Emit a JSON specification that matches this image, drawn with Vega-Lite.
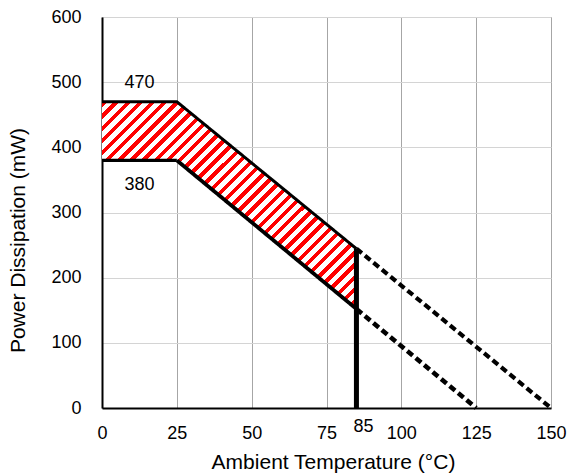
{
  "$schema": "https://vega.github.io/schema/vega-lite/v6.json",
  "autosize": "none",
  "width": 449,
  "height": 391,
  "padding": {"left": 102, "top": 17, "right": 20, "bottom": 65},
  "background": "white",
  "config": {
    "font": "Liberation Sans",
    "view": {"stroke": "#999999", "strokeWidth": 1},
    "axis": {"labelFont": "Liberation Sans", "titleFont": "Liberation Sans", "labelFontSize": 18, "titleFontSize": 21, "labelColor": "#000000", "titleColor": "#000000", "titleFontWeight": "normal", "ticks": false}
  },
  "datasets": {
    "band": [
      {"t": 0, "lo": 380, "hi": 470},
      {"t": 25, "lo": 380, "hi": 470},
      {"t": 85, "lo": 152, "hi": 244.4}
    ],
    "lines": [
      {"seg": "upper", "t": 0, "p": 470},
      {"seg": "upper", "t": 25, "p": 470},
      {"seg": "upper", "t": 85, "p": 244.4},
      {"seg": "lowerFlat", "t": 0, "p": 380},
      {"seg": "lowerFlat", "t": 25, "p": 380},
      {"seg": "lowerSlope", "t": 25, "p": 380},
      {"seg": "lowerSlope", "t": 85, "p": 152},
      {"seg": "upperDash", "t": 85, "p": 244.4},
      {"seg": "upperDash", "t": 150, "p": 0},
      {"seg": "lowerDash", "t": 85, "p": 152},
      {"seg": "lowerDash", "t": 125, "p": 0},
      {"seg": "limit", "t": 85, "p": 0},
      {"seg": "limit", "t": 85, "p": 244.4}
    ],
    "above": [{"t": 12.5, "p": 470, "label": "470"}],
    "below": [{"t": 12.5, "p": 380, "label": "380"}],
    "xnote": [{"t": 85, "p": 0, "label": "85"}]
  },
  "layer": [
    {
      "data": {"name": "band"},
      "mark": {
        "type": "area",
        "color": {
          "gradient": "linear", "x1": 0, "y1": 0, "x2": 1.091, "y2": 0.889,
          "stops": [
            {"offset": 0, "color": "#ff0000"}, {"offset": 0.0118, "color": "#ff0000"}, {"offset": 0.0118, "color": "#ffffff"}, {"offset": 0.0263, "color": "#ffffff"},
            {"offset": 0.0263, "color": "#ff0000"}, {"offset": 0.0382, "color": "#ff0000"}, {"offset": 0.0382, "color": "#ffffff"}, {"offset": 0.0526, "color": "#ffffff"},
            {"offset": 0.0526, "color": "#ff0000"}, {"offset": 0.0645, "color": "#ff0000"}, {"offset": 0.0645, "color": "#ffffff"}, {"offset": 0.0789, "color": "#ffffff"},
            {"offset": 0.0789, "color": "#ff0000"}, {"offset": 0.0908, "color": "#ff0000"}, {"offset": 0.0908, "color": "#ffffff"}, {"offset": 0.1053, "color": "#ffffff"},
            {"offset": 0.1053, "color": "#ff0000"}, {"offset": 0.1171, "color": "#ff0000"}, {"offset": 0.1171, "color": "#ffffff"}, {"offset": 0.1316, "color": "#ffffff"},
            {"offset": 0.1316, "color": "#ff0000"}, {"offset": 0.1434, "color": "#ff0000"}, {"offset": 0.1434, "color": "#ffffff"}, {"offset": 0.1579, "color": "#ffffff"},
            {"offset": 0.1579, "color": "#ff0000"}, {"offset": 0.1697, "color": "#ff0000"}, {"offset": 0.1697, "color": "#ffffff"}, {"offset": 0.1842, "color": "#ffffff"},
            {"offset": 0.1842, "color": "#ff0000"}, {"offset": 0.1961, "color": "#ff0000"}, {"offset": 0.1961, "color": "#ffffff"}, {"offset": 0.2105, "color": "#ffffff"},
            {"offset": 0.2105, "color": "#ff0000"}, {"offset": 0.2224, "color": "#ff0000"}, {"offset": 0.2224, "color": "#ffffff"}, {"offset": 0.2368, "color": "#ffffff"},
            {"offset": 0.2368, "color": "#ff0000"}, {"offset": 0.2487, "color": "#ff0000"}, {"offset": 0.2487, "color": "#ffffff"}, {"offset": 0.2632, "color": "#ffffff"},
            {"offset": 0.2632, "color": "#ff0000"}, {"offset": 0.2750, "color": "#ff0000"}, {"offset": 0.2750, "color": "#ffffff"}, {"offset": 0.2895, "color": "#ffffff"},
            {"offset": 0.2895, "color": "#ff0000"}, {"offset": 0.3013, "color": "#ff0000"}, {"offset": 0.3013, "color": "#ffffff"}, {"offset": 0.3158, "color": "#ffffff"},
            {"offset": 0.3158, "color": "#ff0000"}, {"offset": 0.3276, "color": "#ff0000"}, {"offset": 0.3276, "color": "#ffffff"}, {"offset": 0.3421, "color": "#ffffff"},
            {"offset": 0.3421, "color": "#ff0000"}, {"offset": 0.3539, "color": "#ff0000"}, {"offset": 0.3539, "color": "#ffffff"}, {"offset": 0.3684, "color": "#ffffff"},
            {"offset": 0.3684, "color": "#ff0000"}, {"offset": 0.3803, "color": "#ff0000"}, {"offset": 0.3803, "color": "#ffffff"}, {"offset": 0.3947, "color": "#ffffff"},
            {"offset": 0.3947, "color": "#ff0000"}, {"offset": 0.4066, "color": "#ff0000"}, {"offset": 0.4066, "color": "#ffffff"}, {"offset": 0.4211, "color": "#ffffff"},
            {"offset": 0.4211, "color": "#ff0000"}, {"offset": 0.4329, "color": "#ff0000"}, {"offset": 0.4329, "color": "#ffffff"}, {"offset": 0.4474, "color": "#ffffff"},
            {"offset": 0.4474, "color": "#ff0000"}, {"offset": 0.4592, "color": "#ff0000"}, {"offset": 0.4592, "color": "#ffffff"}, {"offset": 0.4737, "color": "#ffffff"},
            {"offset": 0.4737, "color": "#ff0000"}, {"offset": 0.4855, "color": "#ff0000"}, {"offset": 0.4855, "color": "#ffffff"}, {"offset": 0.5000, "color": "#ffffff"},
            {"offset": 0.5000, "color": "#ff0000"}, {"offset": 0.5118, "color": "#ff0000"}, {"offset": 0.5118, "color": "#ffffff"}, {"offset": 0.5263, "color": "#ffffff"},
            {"offset": 0.5263, "color": "#ff0000"}, {"offset": 0.5382, "color": "#ff0000"}, {"offset": 0.5382, "color": "#ffffff"}, {"offset": 0.5526, "color": "#ffffff"},
            {"offset": 0.5526, "color": "#ff0000"}, {"offset": 0.5645, "color": "#ff0000"}, {"offset": 0.5645, "color": "#ffffff"}, {"offset": 0.5789, "color": "#ffffff"},
            {"offset": 0.5789, "color": "#ff0000"}, {"offset": 0.5908, "color": "#ff0000"}, {"offset": 0.5908, "color": "#ffffff"}, {"offset": 0.6053, "color": "#ffffff"},
            {"offset": 0.6053, "color": "#ff0000"}, {"offset": 0.6171, "color": "#ff0000"}, {"offset": 0.6171, "color": "#ffffff"}, {"offset": 0.6316, "color": "#ffffff"},
            {"offset": 0.6316, "color": "#ff0000"}, {"offset": 0.6434, "color": "#ff0000"}, {"offset": 0.6434, "color": "#ffffff"}, {"offset": 0.6579, "color": "#ffffff"},
            {"offset": 0.6579, "color": "#ff0000"}, {"offset": 0.6697, "color": "#ff0000"}, {"offset": 0.6697, "color": "#ffffff"}, {"offset": 0.6842, "color": "#ffffff"},
            {"offset": 0.6842, "color": "#ff0000"}, {"offset": 0.6961, "color": "#ff0000"}, {"offset": 0.6961, "color": "#ffffff"}, {"offset": 0.7105, "color": "#ffffff"},
            {"offset": 0.7105, "color": "#ff0000"}, {"offset": 0.7224, "color": "#ff0000"}, {"offset": 0.7224, "color": "#ffffff"}, {"offset": 0.7368, "color": "#ffffff"},
            {"offset": 0.7368, "color": "#ff0000"}, {"offset": 0.7487, "color": "#ff0000"}, {"offset": 0.7487, "color": "#ffffff"}, {"offset": 0.7632, "color": "#ffffff"},
            {"offset": 0.7632, "color": "#ff0000"}, {"offset": 0.7750, "color": "#ff0000"}, {"offset": 0.7750, "color": "#ffffff"}, {"offset": 0.7895, "color": "#ffffff"},
            {"offset": 0.7895, "color": "#ff0000"}, {"offset": 0.8013, "color": "#ff0000"}, {"offset": 0.8013, "color": "#ffffff"}, {"offset": 0.8158, "color": "#ffffff"},
            {"offset": 0.8158, "color": "#ff0000"}, {"offset": 0.8276, "color": "#ff0000"}, {"offset": 0.8276, "color": "#ffffff"}, {"offset": 0.8421, "color": "#ffffff"},
            {"offset": 0.8421, "color": "#ff0000"}, {"offset": 0.8539, "color": "#ff0000"}, {"offset": 0.8539, "color": "#ffffff"}, {"offset": 0.8684, "color": "#ffffff"},
            {"offset": 0.8684, "color": "#ff0000"}, {"offset": 0.8803, "color": "#ff0000"}, {"offset": 0.8803, "color": "#ffffff"}, {"offset": 0.8947, "color": "#ffffff"},
            {"offset": 0.8947, "color": "#ff0000"}, {"offset": 0.9066, "color": "#ff0000"}, {"offset": 0.9066, "color": "#ffffff"}, {"offset": 0.9211, "color": "#ffffff"},
            {"offset": 0.9211, "color": "#ff0000"}, {"offset": 0.9329, "color": "#ff0000"}, {"offset": 0.9329, "color": "#ffffff"}, {"offset": 0.9474, "color": "#ffffff"},
            {"offset": 0.9474, "color": "#ff0000"}, {"offset": 0.9592, "color": "#ff0000"}, {"offset": 0.9592, "color": "#ffffff"}, {"offset": 0.9737, "color": "#ffffff"},
            {"offset": 0.9737, "color": "#ff0000"}, {"offset": 0.9855, "color": "#ff0000"}, {"offset": 0.9855, "color": "#ffffff"}, {"offset": 1, "color": "#ffffff"}
          ]
        }
      },
      "encoding": {
        "x": {
          "field": "t", "type": "quantitative",
          "scale": {"domain": [0, 150], "nice": false, "zero": false},
          "axis": {
            "title": "Ambient Temperature (°C)",
            "values": [0, 25, 50, 75, 100, 125, 150],
            "grid": true, "gridColor": "#a6a6a6", "gridWidth": 1,
            "domainColor": "#000000", "domainWidth": 2,
            "labelPadding": 16, "labelFlush": false,
            "titleX": 231, "titleY": 60, "titleBaseline": "alphabetic", "titleAlign": "center"
          }
        },
        "y": {
          "field": "hi", "type": "quantitative",
          "scale": {"domain": [0, 600], "nice": false},
          "axis": {
            "title": "Power Dissipation (mW)",
            "values": [0, 100, 200, 300, 400, 500, 600],
            "grid": true, "gridColor": "#d4d4d4", "gridWidth": 1,
            "domainColor": "#000000", "domainWidth": 2,
            "labelPadding": 21, "labelFlush": false,
            "titleX": -83.5, "titleY": 223, "titleBaseline": "middle", "titleAlign": "center", "titleAngle": -90
          }
        },
        "y2": {"field": "lo"}
      }
    },
    {
      "data": {"name": "lines"},
      "mark": {"type": "line", "color": "#000000", "strokeJoin": "miter", "strokeCap": "butt"},
      "encoding": {
        "x": {"field": "t", "type": "quantitative"},
        "y": {"field": "p", "type": "quantitative"},
        "detail": {"field": "seg"},
        "strokeWidth": {
          "field": "seg", "type": "nominal", "legend": null,
          "scale": {"domain": ["upper", "lowerFlat", "lowerSlope", "upperDash", "lowerDash", "limit"], "range": [3, 5, 2.5, 2.5, 2.5, 5]}
        },
        "strokeDash": {
          "field": "seg", "type": "nominal", "legend": null,
          "scale": {"domain": ["upper", "lowerFlat", "lowerSlope", "upperDash", "lowerDash", "limit"], "range": [[1, 0], [1, 0], [1, 0], [7, 4], [7, 4], [1, 0]]}
        }
      }
    },
    {
      "data": {"name": "above"},
      "mark": {"type": "text", "fontSize": 18, "font": "Liberation Sans", "color": "#000000", "baseline": "middle", "dy": -19},
      "encoding": {
        "x": {"field": "t", "type": "quantitative"},
        "y": {"field": "p", "type": "quantitative"},
        "text": {"field": "label"}
      }
    },
    {
      "data": {"name": "below"},
      "mark": {"type": "text", "fontSize": 18, "font": "Liberation Sans", "color": "#000000", "baseline": "middle", "dy": 25},
      "encoding": {
        "x": {"field": "t", "type": "quantitative"},
        "y": {"field": "p", "type": "quantitative"},
        "text": {"field": "label"}
      }
    },
    {
      "data": {"name": "xnote"},
      "mark": {"type": "text", "fontSize": 18, "font": "Liberation Sans", "color": "#000000", "baseline": "middle", "dy": 19, "dx": 7},
      "encoding": {
        "x": {"field": "t", "type": "quantitative"},
        "y": {"field": "p", "type": "quantitative"},
        "text": {"field": "label"}
      }
    }
  ]
}
